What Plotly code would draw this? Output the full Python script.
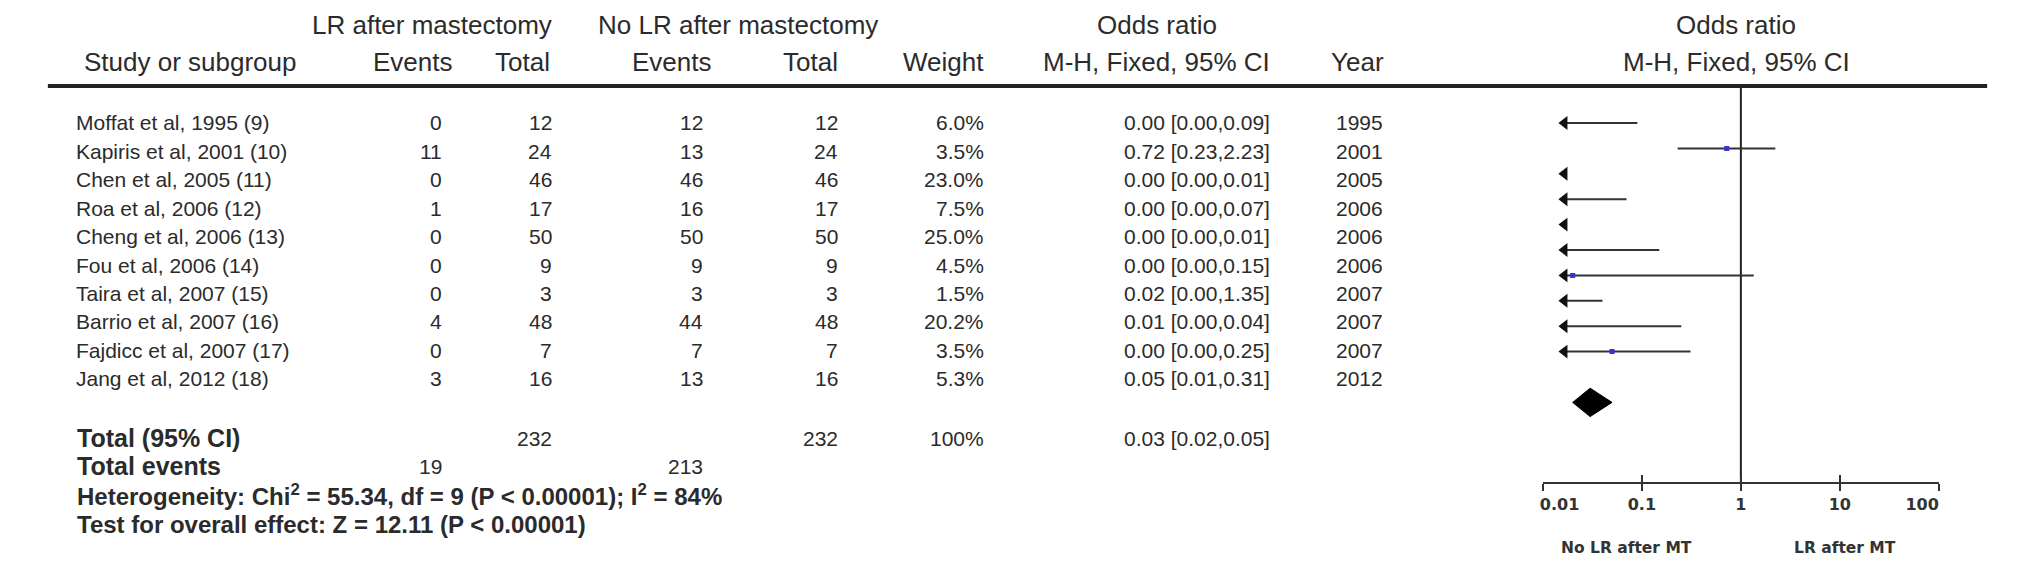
import plotly.graph_objects as go

# ---------------- data ----------------
studies = ["Moffat et al, 1995 (9)", "Kapiris et al, 2001 (10)", "Chen et al, 2005 (11)",
           "Roa et al, 2006 (12)", "Cheng et al, 2006 (13)", "Fou et al, 2006 (14)",
           "Taira et al, 2007 (15)", "Barrio et al, 2007 (16)", "Fajdicc et al, 2007 (17)",
           "Jang et al, 2012 (18)"]
lr_events = [0, 11, 0, 1, 0, 0, 0, 4, 0, 3]
lr_total = [12, 24, 46, 17, 50, 9, 3, 48, 7, 16]
nolr_events = [12, 13, 46, 16, 50, 9, 3, 44, 7, 13]
nolr_total = [12, 24, 46, 17, 50, 9, 3, 48, 7, 16]
weights = [6.0, 3.5, 23.0, 7.5, 25.0, 4.5, 1.5, 20.2, 3.5, 5.3]
or_est = [0.00, 0.72, 0.00, 0.00, 0.00, 0.00, 0.02, 0.01, 0.00, 0.05]
ci_low = [0.00, 0.23, 0.00, 0.00, 0.00, 0.00, 0.00, 0.00, 0.00, 0.01]
ci_high = [0.09, 2.23, 0.01, 0.07, 0.01, 0.15, 1.35, 0.04, 0.25, 0.31]
years = [1995, 2001, 2005, 2006, 2006, 2006, 2007, 2007, 2007, 2012]

total_lr = 232
total_nolr = 232
total_weight = "100%"
events_lr_sum = 19
events_nolr_sum = 213
pooled_or = 0.03
pooled_low = 0.02
pooled_high = 0.05
het_text = "Heterogeneity: Chi<sup>2</sup> = 55.34, df = 9 (P < 0.00001); I<sup>2</sup> = 84%"
overall_text = "Test for overall effect: Z = 12.11 (P < 0.00001)"

axis_ticks = [0.01, 0.1, 1, 10, 100]
NB = "\u00a0"
axis_ticktext = [NB * 6 + "0.01", "0.1", "1", "10", "100" + NB * 6]
favours_left = "No LR after MT"
favours_right = "LR after MT"

# ---------------- layout constants (page pixels) ----------------
PAGE_W, PAGE_H = 2032, 569
OFF = 8                                  # default body margin of the html page
W, H = PAGE_W - 2 * OFF, PAGE_H - 2 * OFF  # figure size so the page has no scrollbars
ROW0 = 123          # first study row (table and forest)
TROW = 28.4         # table row pitch
FROW = 25.4         # forest row pitch
AXIS_Y = 482
AX_L, AX_R = 1560, 1970
TXT = "#2b2b2b"
FONT = "Liberation Sans, Arial, sans-serif"

def px(x):
    return (x - OFF) / W

def py(y):
    return 1 - (y - OFF) / H

annotations = []

def txt(x, y, s, anchor="left", size=21, bold=False, family=FONT, color=TXT):
    annotations.append(dict(
        x=px(x), y=py(y), xref="paper", yref="paper", text=s, showarrow=False,
        xanchor=anchor, yanchor="middle",
        font=dict(family=family, size=size, color=color, weight="bold" if bold else "normal")))

# headers
HS = 26
txt(410, 25, "LR after mastectomy", "center", HS)
txt(727, 25, "No LR after mastectomy", "center", HS)
txt(1160, 25, "Odds ratio", "center", HS)
txt(1760, 25, "Odds ratio", "center", HS)
txt(47, 62, "Study or subgroup", "left", HS)
txt(390, 62, "Events", "center", HS)
txt(534, 62, "Total", "right", HS)
txt(658, 62, "Events", "center", HS)
txt(832, 62, "Total", "right", HS)
txt(983, 62, "Weight", "right", HS)
txt(1280, 62, "M-H, Fixed, 95% CI", "right", HS)
txt(1368, 62, "Year", "center", HS)
txt(1760, 62, "M-H, Fixed, 95% CI", "center", HS)

# study rows
RS = 21
for i, name in enumerate(studies):
    y = ROW0 + i * TROW
    txt(39, y, name, "left", RS)
    txt(422, y, str(lr_events[i]), "right", RS)
    txt(536, y, str(lr_total[i]), "right", RS)
    txt(692, y, str(nolr_events[i]), "right", RS)
    txt(832, y, str(nolr_total[i]), "right", RS)
    txt(983, y, f"{weights[i]:.1f}%", "right", RS)
    txt(1280, y, f"{or_est[i]:.2f} [{ci_low[i]:.2f},{ci_high[i]:.2f}]", "right", RS)
    txt(1370, y, str(years[i]), "center", RS)

# totals
BS = 25
y_tot, y_ev, y_het, y_ov = 438, 466, 495, 524
txt(40, y_tot, "Total (95% CI)", "left", BS, True)
txt(536, y_tot, str(total_lr), "right", RS)
txt(832, y_tot, str(total_nolr), "right", RS)
txt(983, y_tot, total_weight, "right", RS)
txt(1280, y_tot, f"{pooled_or:.2f} [{pooled_low:.2f},{pooled_high:.2f}]", "right", RS)
txt(40, y_ev, "Total events", "left", BS, True)
txt(422, y_ev, str(events_lr_sum), "right", RS)
txt(692, y_ev, str(events_nolr_sum), "right", RS)
txt(40, y_het, het_text, "left", 24, True)
txt(40, y_ov, overall_text, "left", 24, True)

# favours labels
FAV_FONT = "DejaVu Sans, Verdana, sans-serif"
txt(1647, 548, favours_left, "center", 15.5, True, FAV_FONT, "#333")
txt(1873, 548, favours_right, "center", 15.5, True, FAV_FONT, "#333")

# ---------------- forest plot ----------------
fig = go.Figure()
ARROW_X = 0.0165   # centre of the clipped-CI arrowhead marker
LINE_C = "#333333"

# vertical line of no effect
y_top = (87 - ROW0) / FROW
y_bot = (AXIS_Y - ROW0) / FROW
fig.add_trace(go.Scatter(x=[1, 1], y=[y_top, y_bot], mode="lines",
                         line=dict(color="#222", width=2), hoverinfo="skip"))

for i in range(len(studies)):
    clipped = ci_low[i] <= 0.01
    lo = ARROW_X if clipped else ci_low[i]
    hi = ci_high[i]
    if hi > lo:
        fig.add_trace(go.Scatter(x=[lo, hi], y=[i, i], mode="lines",
                                 line=dict(color=LINE_C, width=2), hoverinfo="skip"))
    if clipped:
        fig.add_trace(go.Scatter(x=[ARROW_X], y=[i], mode="markers",
                                 marker=dict(symbol="triangle-left", size=12, color="#111",
                                             line=dict(width=0)), hoverinfo="skip"))
    if or_est[i] > 0.01:
        fig.add_trace(go.Scatter(x=[or_est[i]], y=[i], mode="markers",
                                 marker=dict(symbol="square", size=5, color="#3535d0",
                                             line=dict(width=0)), hoverinfo="skip"))

# pooled diamond
yd = len(studies) + 1
hd = 0.56
fig.add_trace(go.Scatter(x=[pooled_low, pooled_or, pooled_high, pooled_or, pooled_low],
                         y=[yd, yd - hd, yd, yd + hd, yd], mode="lines", fill="toself",
                         fillcolor="black", line=dict(color="black", width=1), hoverinfo="skip"))

# carrier trace for the overlay axis that draws the upward tick marks
fig.add_trace(go.Scatter(x=[1], y=[None], xaxis="x2", mode="markers", showlegend=False,
                         hoverinfo="skip"))

shapes = [dict(type="line", xref="paper", yref="paper", x0=px(12), x1=px(2020),
               y0=py(86), y1=py(86), line=dict(color="#222", width=4))]

fig.update_layout(
    width=W, height=H, margin=dict(l=0, r=0, t=0, b=0),
    paper_bgcolor="white", plot_bgcolor="rgba(0,0,0,0)", showlegend=False,
    annotations=annotations, shapes=shapes,
    xaxis=dict(type="log", range=[-2, 2], domain=[px(AX_L), px(AX_R)],
               showline=True, linecolor="#333", linewidth=2, showgrid=False, zeroline=False,
               ticks="outside", ticklen=7, tickwidth=2, tickcolor="#333",
               tickvals=axis_ticks, ticktext=axis_ticktext,
               tickfont=dict(family=FAV_FONT, size=16, color="#333", weight="bold")),
    xaxis2=dict(type="log", range=[-2, 2], overlaying="x", anchor="y", side="bottom",
                showline=False, showgrid=False, zeroline=False, ticks="inside", ticklen=7,
                tickwidth=2, tickcolor="#333", tickvals=axis_ticks, showticklabels=False),
    yaxis=dict(range=[(AXIS_Y - ROW0) / FROW, (OFF - ROW0) / FROW], domain=[py(AXIS_Y), 1],
               visible=False, showgrid=False, zeroline=False),
)

fig.write_html("out.html")
